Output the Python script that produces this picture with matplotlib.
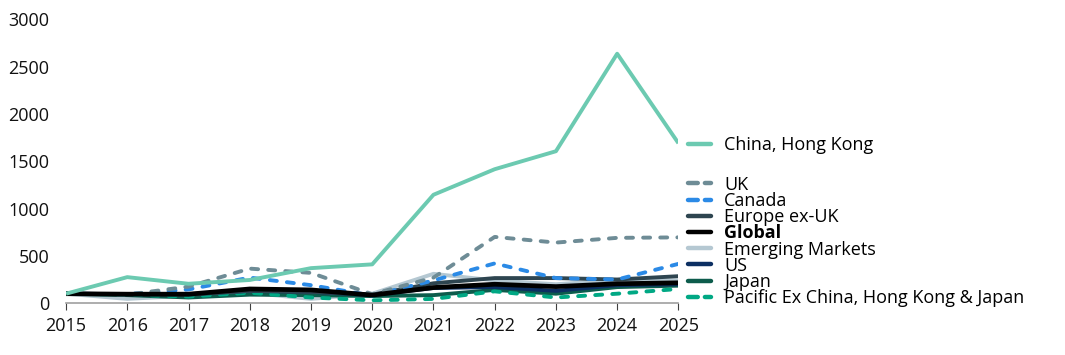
import matplotlib
matplotlib.use("Agg")
import matplotlib.pyplot as plt
from matplotlib.lines import Line2D

plt.rcParams["font.family"] = ["Open Sans", "DejaVu Sans"]

years = [2015, 2016, 2017, 2018, 2019, 2020, 2021, 2022, 2023, 2024, 2025]

china_hk = [100, 275, 205, 245, 370, 410, 1145, 1415, 1605, 2635, 1690]
uk = [100, 90, 175, 365, 320, 95, 270, 700, 640, 690, 695]
canada = [100, 95, 145, 270, 190, 80, 240, 420, 265, 250, 415]
europe_ex_uk = [100, 95, 90, 130, 120, 90, 210, 265, 265, 250, 285]
global_ = [100, 95, 95, 150, 140, 85, 165, 200, 175, 205, 215]
emerging = [100, 45, 80, 110, 45, 100, 310, 240, 200, 245, 240]
us = [100, 95, 95, 130, 120, 85, 160, 170, 130, 190, 200]
japan = [100, 85, 60, 90, 85, 75, 85, 140, 100, 170, 185]
pacific = [100, 90, 70, 110, 60, 30, 45, 125, 60, 100, 150]

# name, values, colour, dashed
series = [
    ("Emerging Markets", emerging, "#b5c8d2", False),
    ("Japan", japan, "#0d5c4c", False),
    ("Pacific Ex China, Hong Kong & Japan", pacific, "#00a884", True),
    ("US", us, "#0c2f62", False),
    ("Europe ex-UK", europe_ex_uk, "#2e4550", False),
    ("Canada", canada, "#2b8ae6", True),
    ("UK", uk, "#6e8c96", True),
    ("Global", global_, "#000000", False),
    ("China, Hong Kong", china_hk, "#6ccab1", False),
]
legend_order = ["UK", "Canada", "Europe ex-UK", "Global", "Emerging Markets",
                "US", "Japan", "Pacific Ex China, Hong Kong & Japan"]

fig = plt.figure(figsize=(10.65, 3.55), dpi=100)
ax = fig.add_axes([0.062, 0.146, 0.575, 0.8])

handles = {}
for name, vals, col, dashed in series:
    ls = (0, (1.8, 2.6)) if dashed else "-"
    lw = 3.4 if name == "Global" else 2.8
    h, = ax.plot(years, vals, color=col, lw=lw, ls=ls,
                 dash_capstyle="round", solid_capstyle="butt")
    handles[name] = h

ax.set_xlim(2015, 2025)
ax.set_ylim(0, 3000)
ax.set_yticks(range(0, 3001, 500))
ax.set_xticks(years)
for s in ["top", "right", "left"]:
    ax.spines[s].set_visible(False)
ax.spines["bottom"].set_color("#a0a0a0")
ax.spines["bottom"].set_linewidth(1.2)
ax.tick_params(axis="y", length=0, pad=12, labelsize=13)
ax.tick_params(axis="x", length=5, color="#404040", labelsize=13, pad=5)
for lab in ax.get_yticklabels() + ax.get_xticklabels():
    lab.set_color("#111111")


def make_handle(name):
    h = handles[name]
    ls = (0, (2.2, 1.6)) if h.get_linestyle() != "-" else "-"
    return Line2D([], [], color=h.get_color(), lw=3.2, ls=ls,
                  dash_capstyle="round", solid_capstyle="round")


leg_kw = dict(frameon=False, fontsize=13, handlelength=1.3,
              handletextpad=0.7, borderaxespad=0, borderpad=0)
leg1 = fig.legend([make_handle("China, Hong Kong")], ["China, Hong Kong"],
                  loc="center left", bbox_to_anchor=(0.646, 0.592), **leg_kw)
leg2 = fig.legend([make_handle(n) for n in legend_order], legend_order,
                  loc="upper left", bbox_to_anchor=(0.646, 0.505),
                  labelspacing=-0.1, **leg_kw)
for t in leg2.get_texts():
    if t.get_text() == "Global":
        t.set_fontweight("bold")

fig.savefig("out.png", dpi=100)
